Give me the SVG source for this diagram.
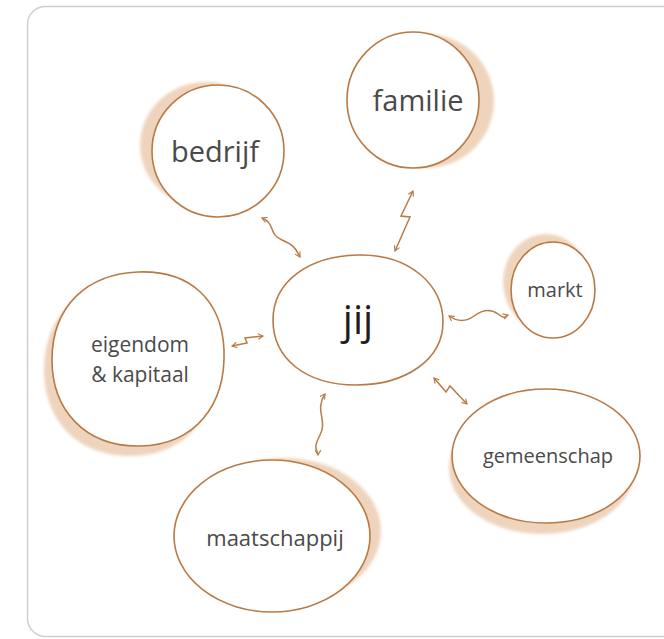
<svg xmlns="http://www.w3.org/2000/svg" width="664" height="639" viewBox="0 0 664 639">
  <defs>
    <filter id="soft" x="-20%" y="-20%" width="140%" height="140%">
      <feGaussianBlur stdDeviation="1.8"/>
    </filter>
    <marker id="ah" viewBox="0 0 10 10" refX="8" refY="5" markerWidth="7" markerHeight="7" orient="auto-start-reverse" markerUnits="userSpaceOnUse">
      <path d="M1 1 L8 5 L1 9" fill="none" stroke="#b97a45" stroke-width="1.6"/>
    </marker>
  </defs>
  <style>
    .frame { fill: #ffffff; stroke: #cfcfcf; stroke-width: 1.5; }
    .shadow { fill: #efd4bd; filter: url(#soft); }
    .node { fill: #ffffff; stroke: #b97a45; stroke-width: 1.6; }
    .lbl { font-family: "Open Sans", "Noto Sans", sans-serif; fill: #4a4a4a; text-anchor: middle; }
    .conn { fill: none; stroke: #b97a45; stroke-width: 1.5; marker-start: url(#ah); marker-end: url(#ah); }
  </style>
  <rect class="frame" x="27.5" y="6.5" width="660" height="630" rx="18"/>

  <g id="bedrijf">
    <ellipse class="shadow" cx="206" cy="145" rx="66" ry="63"/>
    <ellipse class="node" cx="218" cy="151" rx="66" ry="66"/>
    <text class="lbl" x="215" y="162" font-size="29">bedrijf</text>
  </g>
  <g id="familie">
    <ellipse class="shadow" cx="426" cy="101" rx="68" ry="67"/>
    <ellipse class="node" cx="413" cy="100" rx="66" ry="68"/>
    <text class="lbl" x="418" y="111" font-size="29">familie</text>
  </g>
  <g id="markt">
    <ellipse class="shadow" cx="546" cy="282" rx="43" ry="48"/>
    <ellipse class="node" cx="553" cy="290" rx="42" ry="48"/>
    <text class="lbl" x="555" y="297" font-size="20">markt</text>
  </g>
  <g id="jij">
    <path class="node" d="M358 255 C410 254 443 285 443 322 C443 360 405 385 356 385 C305 385 273 358 273 320 C273 282 308 256 358 255 Z"/>
    <text class="lbl" x="358" y="334" font-size="40" font-weight="500" style="fill:#1e1e1e">jij</text>
  </g>
  <g id="eigendom">
    <path class="shadow" d="M130 282 C182 280 214 310 216 360 C218 415 187 455 132 456 C77 457 44 420 44 370 C44 315 80 284 130 282 Z"/>
    <path class="node" d="M138 272 C190 270 222 300 224 350 C226 405 195 445 140 446 C85 447 52 410 52 360 C52 305 88 274 138 272 Z"/>
    <text class="lbl" x="140" y="352" font-size="21">eigendom</text>
    <text class="lbl" x="140" y="382" font-size="21">&amp; kapitaal</text>
  </g>
  <g id="gemeenschap">
    <ellipse class="shadow" cx="542" cy="468" rx="93" ry="66"/>
    <ellipse class="node" cx="546" cy="456" rx="94" ry="67"/>
    <text class="lbl" x="548" y="463" font-size="20">gemeenschap</text>
  </g>
  <g id="maatschappij">
    <ellipse class="shadow" cx="284" cy="531" rx="97" ry="73"/>
    <ellipse class="node" cx="272" cy="536" rx="98" ry="76"/>
    <text class="lbl" x="275" y="546" font-size="22">maatschappij</text>
  </g>

  <g id="connectors">
    <path class="conn" d="M262 218 C276 224 268 234 282 240 S296 250 300 257"/>
    <path class="conn" d="M413 191 L401 216 L410 217 L395 251"/>
    <path class="conn" d="M449 316 C458 322 466 322 474 316 S490 308 498 314 S505 316 508 315"/>
    <path class="conn" d="M232 346 L247 343 L245 338 L263 336"/>
    <path class="conn" d="M434 378 L446 392 L450 386 L467 404"/>
    <path class="conn" d="M325 394 C314 410 328 420 320 435 S318 450 318 455"/>
  </g>
</svg>
